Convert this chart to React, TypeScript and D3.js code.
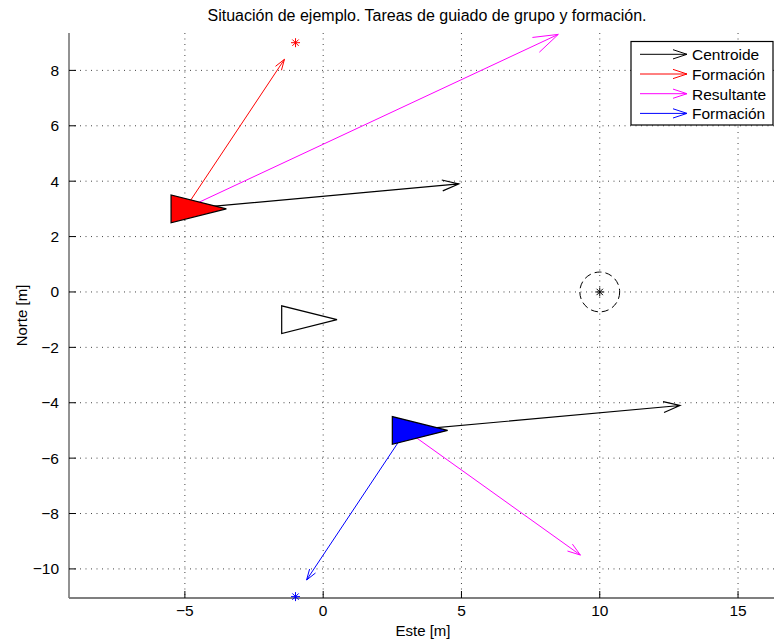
import React from "react";
import * as d3 from "d3";

// ---- data ----
const xTicks = [-5, 0, 5, 10, 15];
const yTicks = [-10, -8, -6, -4, -2, 0, 2, 4, 6, 8];
const vehicleNames = ["Rojo", "Blanco", "Azul"];
const vehicleX = [-5, -1, 3];
const vehicleY = [3, -1, -5];
const centroidVec = [9.9, 0.9];
const formationOriginIdx = [0, 2];
const formationU = [3.6, -3.6];
const formationV = [5.4, -5.4];
const formationStarX = [-1, -1];
const formationStarY = [9, -11];
const targetPoint = [10, 0];
const targetRadius = 0.72;
const legendLabels = ["Centroide", "Formación", "Resultante", "Formación"];
const title = "Situación de ejemplo. Tareas de guiado de grupo y formación.";

const W = 774, H = 642;
const L = 69, R = 774, T = 33, B = 598;
const FONT = "'Liberation Sans', Arial, Helvetica, sans-serif";

function arrowPath(x1: number, y1: number, x2: number, y2: number, headLen?: number) {
  const dx = x2 - x1, dy = y2 - y1;
  const len = Math.hypot(dx, dy);
  const h = headLen ?? len * 0.06;
  const ux = dx / len, uy = dy / len;
  const bx = x2 - ux * h, by = y2 - uy * h;
  const w = h * 0.33;
  const px = -uy * w, py = ux * w;
  return `M${x1},${y1}L${x2},${y2}M${bx + px},${by + py}L${x2},${y2}L${bx - px},${by - py}`;
}

function star(cx: number, cy: number, r: number) {
  let d = "";
  for (let k = 0; k < 4; k++) {
    const a = (k * Math.PI) / 4;
    d += `M${cx - r * Math.cos(a)},${cy - r * Math.sin(a)}L${cx + r * Math.cos(a)},${cy + r * Math.sin(a)}`;
  }
  return d;
}

export default function App() {
  const x = d3.scaleLinear().domain([-9.19, 16.3]).range([L, R]);
  const y = d3.scaleLinear().domain([-11.05, 9.35]).range([B, T]);
  const fills = ["#ff0000", "#ffffff", "#0000ff"];
  const formColors = ["#ff0000", "#0000ff"];

  const tri = (cx: number, cy: number) =>
    [[cx - 0.5, cy + 0.5], [cx - 0.5, cy - 0.5], [cx + 1.5, cy]].map(([a, b]) => `${x(a)},${y(b)}`).join(" ");

  const legendColors = ["#000000", "#ff0000", "#ff00ff", "#0000ff"];
  const fmt = (t: number) => (t < 0 ? "\u2212" + Math.abs(t) : String(t));

  return (
    <svg width={W} height={H} style={{ position: "absolute", left: 0, top: 0, background: "#fff" }} fontFamily={FONT}>
      <rect x={0} y={0} width={W} height={H} fill="#fff" />
      {/* grid */}
      <g stroke="#444" strokeWidth={1} strokeDasharray="1,4.5">
        {xTicks.map((t) => (
          <line key={"gx" + t} x1={x(t)} x2={x(t)} y1={T} y2={B} />
        ))}
        {yTicks.map((t) => (
          <line key={"gy" + t} x1={L} x2={R} y1={y(t)} y2={y(t)} />
        ))}
      </g>
      {/* axes */}
      <line x1={L} x2={R} y1={B} y2={B} stroke="#000" strokeWidth={1.2} />
      <line x1={L} x2={L} y1={T} y2={B} stroke="#777" strokeWidth={1.6} />
      {xTicks.map((t) => (
        <g key={"xt" + t}>
          <line x1={x(t)} x2={x(t)} y1={B} y2={B - 7} stroke="#000" />
          <text x={x(t)} y={616} textAnchor="middle" fontSize={15.5} fill="#000">
            {fmt(t)}
          </text>
        </g>
      ))}
      {yTicks.map((t) => (
        <g key={"yt" + t}>
          <line x1={L} x2={L + 7} y1={y(t)} y2={y(t)} stroke="#000" />
          <text x={59} y={y(t) + 5.5} textAnchor="end" fontSize={15.5} fill="#000">
            {fmt(t)}
          </text>
        </g>
      ))}
      <text x={423} y={636} textAnchor="middle" fontSize={15}>Este [m]</text>
      <text transform={`translate(27,${(T + B) / 2}) rotate(-90)`} textAnchor="middle" fontSize={15}>Norte [m]</text>
      <text x={427} y={21} textAnchor="middle" fontSize={16}>{title}</text>

      {/* target */}
      <circle cx={x(targetPoint[0])} cy={y(targetPoint[1])} r={x(targetRadius) - x(0)} fill="none" stroke="#000" strokeDasharray="7,4" />
      <path d={star(x(targetPoint[0]), y(targetPoint[1]), 4.5)} stroke="#000" strokeWidth={1} />

      {/* formation stars */}
      {formationStarX.map((sx, i) => (
        <path key={"fs" + i} d={star(x(sx), y(formationStarY[i]), 4.5)} stroke={formColors[i]} strokeWidth={1} />
      ))}

      {/* arrows */}
      {formationOriginIdx.map((vi, i) => {
        const x0 = vehicleX[vi], y0 = vehicleY[vi];
        const cx = x0 + centroidVec[0], cy = y0 + centroidVec[1];
        const fx = x0 + formationU[i], fy = y0 + formationV[i];
        const rx = x0 + centroidVec[0] + formationU[i], ry = y0 + centroidVec[1] + formationV[i];
        return (
          <g key={"ar" + i} fill="none" strokeWidth={1}>
            <path d={arrowPath(x(x0), y(y0), x(fx), y(fy))} stroke={formColors[i]} />
            <path d={arrowPath(x(x0), y(y0), x(rx), y(ry))} stroke="#ff00ff" />
            <path d={arrowPath(x(x0), y(y0), x(cx), y(cy))} stroke="#000" strokeWidth={1.2} />
          </g>
        );
      })}

      {/* vehicles */}
      {vehicleNames.map((n, i) => (
        <polygon key={n} points={tri(vehicleX[i], vehicleY[i])} fill={fills[i]} stroke="#000" strokeWidth={1.2} />
      ))}

      {/* legend */}
      <g>
        <rect x={631} y={41.5} width={142} height={83.5} fill="#fff" stroke="#000" strokeWidth={1.2} />
        {legendLabels.map((lab, i) => {
          const ly = 54.3 + i * 19.7;
          return (
            <g key={"lg" + i}>
              <path d={arrowPath(640, ly, 687, ly, 14)} stroke={legendColors[i]} fill="none" />
              <text x={692} y={ly + 5.8} fontSize={15.5}>{lab}</text>
            </g>
          );
        })}
      </g>
    </svg>
  );
}
